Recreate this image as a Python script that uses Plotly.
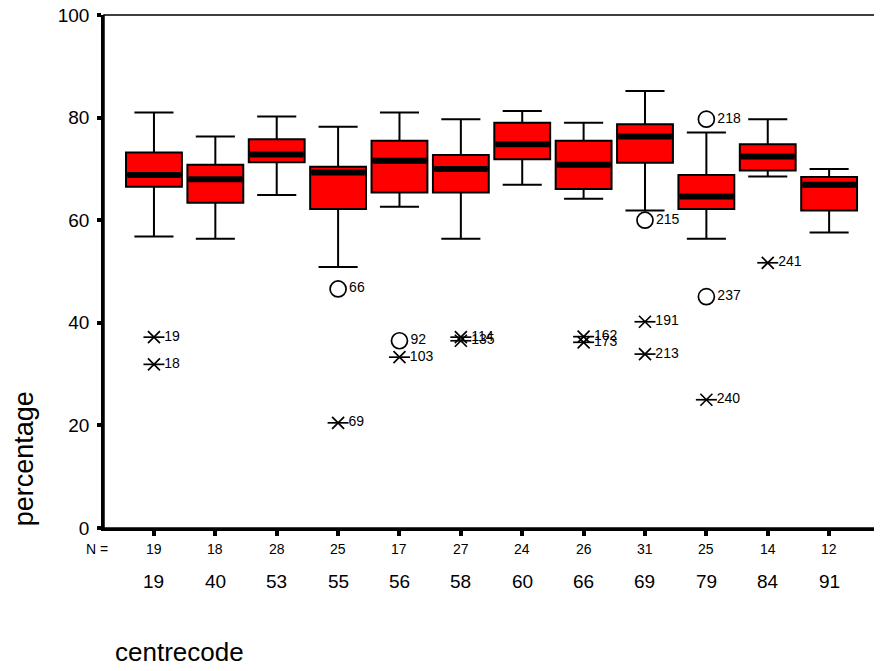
import plotly.graph_objects as go

# ---- data ----
centres = ["19", "40", "53", "55", "56", "58", "60", "66", "69", "79", "84", "91"]
n_cases = [19, 18, 28, 25, 17, 27, 24, 26, 31, 25, 14, 12]
upper_whisker = [81.0, 76.3, 80.2, 78.2, 81.0, 79.7, 81.3, 79.0, 85.2, 77.1, 79.7, 70.0]
q3 = [73.2, 70.8, 75.8, 70.4, 75.5, 72.7, 79.0, 75.5, 78.7, 68.8, 74.8, 68.4]
median = [68.8, 68.0, 72.8, 69.3, 71.6, 70.0, 74.8, 70.8, 76.3, 64.6, 72.4, 66.9]
q1 = [66.5, 63.4, 71.3, 62.2, 65.4, 65.4, 71.9, 66.1, 71.2, 62.2, 69.7, 61.9]
lower_whisker = [56.8, 56.4, 64.9, 50.9, 62.6, 56.4, 66.9, 64.2, 61.9, 56.4, 68.5, 57.6]

# outliers (circles): centre, value, case label
out_centre = ["55", "56", "69", "79", "79"]
out_value = [46.6, 36.5, 60.0, 79.7, 45.1]
out_label = ["66", "92", "215", "218", "237"]

# extremes (stars): centre, value, case label
ext_centre = ["19", "19", "55", "56", "58", "58", "66", "66", "69", "69", "79", "84"]
ext_value = [37.2, 31.9, 20.5, 33.3, 37.2, 36.5, 37.3, 36.2, 40.2, 33.9, 25.0, 51.7]
ext_label = ["19", "18", "69", "103", "114", "135", "162", "173", "191", "213", "240", "241"]

y_ticks = [0, 20, 40, 60, 80, 100]

# ---- figure ----
FONT = "Liberation Sans, Arial, sans-serif"
NARROW = "Liberation Sans Narrow, Liberation Sans, Arial, sans-serif"
BOX_W = 0.91
pos = {c: i for i, c in enumerate(centres)}
xs = [pos[c] for c in centres]

fig = go.Figure()

fig.add_trace(go.Box(
    x=xs, q1=q1, median=median, q3=q3,
    lowerfence=lower_whisker, upperfence=upper_whisker,
    width=BOX_W, whiskerwidth=0.7,
    fillcolor="rgb(255,0,0)",
    line=dict(color="black", width=2),
    boxpoints=False, hoverinfo="skip",
))

# thick median bars
mx, my = [], []
for i, m in zip(xs, median):
    mx += [i - BOX_W / 2 + 0.02, i + BOX_W / 2 - 0.02, None]
    my += [m, m, None]
fig.add_trace(go.Scatter(x=mx, y=my, mode="lines",
                         line=dict(color="black", width=6), hoverinfo="skip"))

# outliers (open circles)
fig.add_trace(go.Scatter(
    x=[pos[c] for c in out_centre], y=out_value, mode="markers+text",
    text=out_label, textposition="middle right",
    textfont=dict(family=FONT, size=14, color="black"),
    marker=dict(symbol="circle-open", size=16, color="black", line=dict(width=1.7)),
    hoverinfo="skip"))

# extremes (asterisk: X plus horizontal bar)
ex = [pos[c] for c in ext_centre]
fig.add_trace(go.Scatter(
    x=ex, y=ext_value, mode="markers",
    marker=dict(symbol="x-thin-open", size=12, color="black", line=dict(width=1.7, color="black")),
    hoverinfo="skip"))
fig.add_trace(go.Scatter(
    x=ex, y=ext_value, mode="markers+text",
    text=ext_label, textposition="middle right",
    textfont=dict(family=FONT, size=14, color="black"),
    marker=dict(symbol="line-ew-open", size=15, color="black", line=dict(width=1.7, color="black")),
    hoverinfo="skip"))

annotations = []
# N row
annotations.append(dict(x=-0.009, y=-0.041, xref="paper", yref="paper", text="N =",
                        showarrow=False, xanchor="center", yanchor="middle",
                        font=dict(family=NARROW, size=14, color="black")))
for c, nv in zip(centres, n_cases):
    annotations.append(dict(x=pos[c], y=-0.041, xref="x", yref="paper", text=str(nv),
                            showarrow=False, xanchor="center", yanchor="middle",
                            font=dict(family=NARROW, size=14, color="black")))
    annotations.append(dict(x=pos[c], y=-0.105, xref="x", yref="paper", text=c,
                            showarrow=False, xanchor="center", yanchor="middle",
                            font=dict(family=FONT, size=19, color="black")))
annotations.append(dict(x=-0.1035, y=0.136, xref="paper", yref="paper", text="percentage",
                        textangle=-90, showarrow=False, xanchor="center", yanchor="middle",
                        font=dict(family=FONT, size=27, color="black")))
annotations.append(dict(x=0.011, y=-0.2417, xref="paper", yref="paper", text="centrecode",
                        showarrow=False, xanchor="left", yanchor="middle",
                        font=dict(family=FONT, size=26, color="black")))

fig.update_layout(
    width=882, height=671,
    margin=dict(l=96, r=13, t=7, b=151, pad=0, autoexpand=False),
    paper_bgcolor="white", plot_bgcolor="white",
    showlegend=False,
    annotations=annotations,
    shapes=[dict(type="rect", xref="paper", yref="paper", x0=0, y0=0, x1=1, y1=1,
                 line=dict(color="black", width=1.5), layer="above")],
    xaxis=dict(range=[-0.814, 11.78], tickvals=xs, showticklabels=False,
               ticks="outside", ticklen=5, tickwidth=4, tickcolor="black",
               showline=True, linecolor="black", linewidth=2.5, automargin=False,
               showgrid=False, zeroline=False, fixedrange=True),
    yaxis=dict(range=[0, 100], tickvals=y_ticks, ticks="outside", ticklen=4, tickwidth=4,
               tickcolor="black", showline=True, linecolor="black", linewidth=2.5,
               showgrid=False, zeroline=False, ticklabelstandoff=4, automargin=False,
               ticklabeloverflow="allow",
               tickfont=dict(family=FONT, size=19, color="black"), fixedrange=True),
)

fig.write_html("out.html")
